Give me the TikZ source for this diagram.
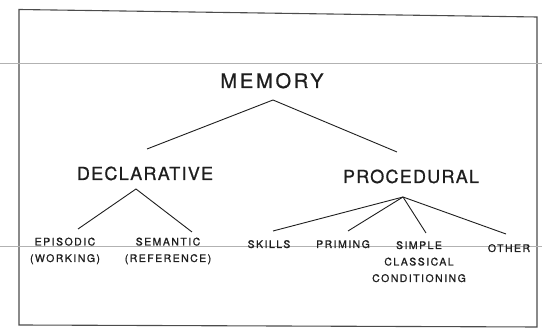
\documentclass[tikz,border=0pt]{standalone}
\usepackage{fontspec}
\usepackage{tikz}
\usetikzlibrary{calc}
\newfontfamily\rootfont[LetterSpace=14, FakeBold=0.8]{TeX Gyre Heros}
\newfontfamily\catfont[LetterSpace=7, FakeBold=0.8]{TeX Gyre Heros}
\newfontfamily\leaffont[LetterSpace=14, FakeBold=1.0]{TeX Gyre Heros}
\definecolor{inkgray}{RGB}{30, 30, 30}
\tikzset{
  rootlbl/.style={
    anchor=base, inner sep=0pt, text=inkgray,
    font={\rootfont\fontsize{20}{24}\selectfont},
  },
  catlbl/.style={
    anchor=base, inner sep=0pt, text=inkgray,
    font={\catfont\fontsize{18}{22}\selectfont},
  },
  leaflbl/.style={
    anchor=base, inner sep=0pt, text=inkgray, align=center,
    font={\leaffont\fontsize{10.5}{16.5}\selectfont},
  },
  branch/.style={draw=inkgray, line width=0.9pt},
  frame/.style={draw=black!70, line width=1.1pt},
  scanline/.style={draw=black!30, line width=0.5pt},
}

\begin{document}
\begin{tikzpicture}[x=1pt, y=-1pt]
\useasboundingbox (0,0) rectangle (542,328);

% scan border and stray lines
\draw[frame] (19,9.5) -- (537,17) -- (537,327) -- (19,325) -- cycle;
\draw[scanline] (0,63) -- (542,63);
\draw[scanline] (0,246) -- (542,246);

\node[rootlbl] (mem) at (272,88) {MEMORY};

\node[catlbl] (dec) at (145,180) {DECLARATIVE};
\node[catlbl] (proc) at (411,183) {PROCEDURAL};

% base of a multi-line label is its last line
\node[leaflbl] (epi) at (65,262) {EPISODIC\\(WORKING)};
\node[leaflbl] (sem) at (168,262) {SEMANTIC\\(REFERENCE)};
\node[leaflbl] (skl) at (269,248) {SKILLS};
\node[leaflbl] (prm) at (343,248) {PRIMING};
\node[leaflbl] (ccond) at (419,282) {SIMPLE\\CLASSICAL\\CONDITIONING};
\node[leaflbl] (oth) at (509,252) {OTHER};

\coordinate (mem-j) at ($(mem.base)+(1,12)$);
\coordinate (dec-j) at ($(dec.base)+(-9,9)$);
\coordinate (proc-j) at ($(proc.base)+(-8,14)$);

\draw[branch] ($(dec.base)+(2,-31)$) -- (mem-j) -- ($(proc.base)+(-14,-31)$);
\draw[branch] ($(epi.base)+(13,-33)$) -- (dec-j) -- ($(sem.base)+(24,-30)$);
\draw[branch] (proc-j) -- ($(skl.base)+(4,-17)$);
\draw[branch] (proc-j) -- ($(prm.base)+(5,-17)$);
\draw[branch] (proc-j) -- ($(ccond.base)+(7,-49)$);
\draw[branch] (proc-j) -- ($(oth.base)+(-3,-18)$);

\end{tikzpicture}
\end{document}
